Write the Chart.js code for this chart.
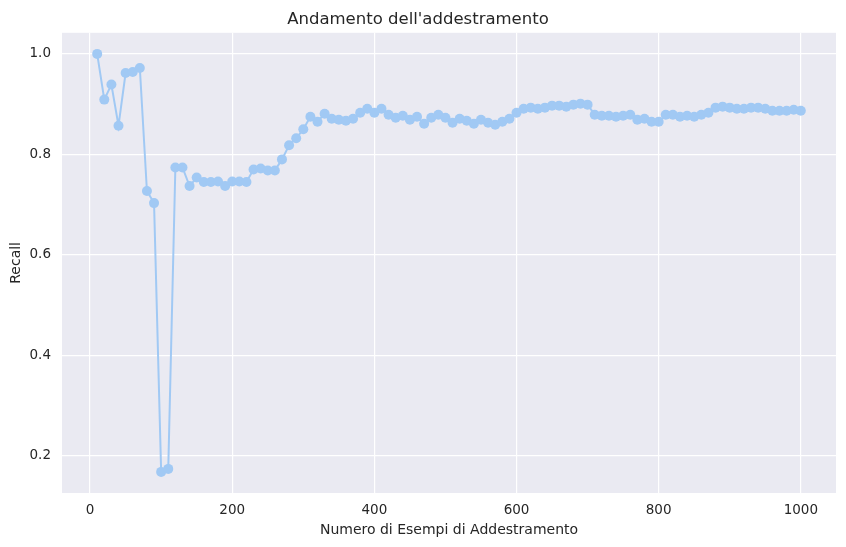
<!DOCTYPE html>
<html>
<head>
<meta charset="utf-8">
<script src="https://cdn.jsdelivr.net/npm/chart.js@4.4.0/dist/chart.umd.min.js"></script>
<style>
  html, body { margin: 0; padding: 0; background: #ffffff; }
  #wrap { width: 846px; height: 547px; }
</style>
</head>
<body>
<div id="wrap"><canvas id="mycanvas" width="846" height="547"></canvas></div>
<script>
// numero di esempi usati per l'addestramento
var examples = [10, 20, 30, 40, 50, 60, 70, 80, 90, 100,
  110, 120, 130, 140, 150, 160, 170, 180, 190, 200,
  210, 220, 230, 240, 250, 260, 270, 280, 290, 300,
  310, 320, 330, 340, 350, 360, 370, 380, 390, 400,
  410, 420, 430, 440, 450, 460, 470, 480, 490, 500,
  510, 520, 530, 540, 550, 560, 570, 580, 590, 600,
  610, 620, 630, 640, 650, 660, 670, 680, 690, 700,
  710, 720, 730, 740, 750, 760, 770, 780, 790, 800,
  810, 820, 830, 840, 850, 860, 870, 880, 890, 900,
  910, 920, 930, 940, 950, 960, 970, 980, 990, 1000];

var recall = [1.000, 0.909, 0.939, 0.857, 0.962, 0.964, 0.972, 0.727, 0.703, 0.168,
  0.174, 0.774, 0.774, 0.737, 0.754, 0.745, 0.745, 0.746, 0.737, 0.746,
  0.746, 0.745, 0.770, 0.772, 0.768, 0.768, 0.790, 0.818, 0.832, 0.850,
  0.875, 0.865, 0.881, 0.871, 0.869, 0.867, 0.871, 0.883, 0.891, 0.883,
  0.891, 0.879, 0.873, 0.877, 0.869, 0.875, 0.861, 0.873, 0.879, 0.873,
  0.863, 0.871, 0.867, 0.861, 0.869, 0.863, 0.859, 0.865, 0.871, 0.883,
  0.891, 0.893, 0.891, 0.893, 0.897, 0.897, 0.895, 0.899, 0.901, 0.899,
  0.879, 0.877, 0.877, 0.875, 0.877, 0.879, 0.869, 0.871, 0.865, 0.865,
  0.879, 0.879, 0.875, 0.877, 0.875, 0.879, 0.883, 0.893, 0.895, 0.893,
  0.891, 0.891, 0.893, 0.893, 0.891, 0.887, 0.887, 0.887, 0.889, 0.887];

var xTicks = [0, 200, 400, 600, 800, 1000];
var yTicks = [0.2, 0.4, 0.6, 0.8, 1.0];

var points = [];
for (var i = 0; i < examples.length; i++) {
  points.push({x: examples[i], y: recall[i]});
}

var textColor = '#262626';
var fontFam = '"DejaVu Sans", sans-serif';

// sfondo grigio stile seaborn
var bgPlugin = {
  id: 'plotBg',
  beforeDraw: function(chart) {
    var a = chart.chartArea;
    var c = chart.ctx;
    c.save();
    c.fillStyle = '#eaeaf2';
    c.fillRect(a.left, a.top, a.right - a.left, a.bottom - a.top);
    c.restore();
  }
};

var ctx = document.getElementById('mycanvas');
var LineGraph = new Chart(ctx, {
  type: 'line',
  data: {
    datasets: [{
      label: 'Recall',
      data: points,
      borderColor: '#a1c9f4',
      backgroundColor: '#a1c9f4',
      borderWidth: 2,
      pointRadius: 5,
      pointBorderWidth: 0,
      pointHoverRadius: 5,
      fill: false,
      tension: 0
    }]
  },
  options: {
    responsive: false,
    animation: false,
    devicePixelRatio: 1,
    events: [],
    layout: { padding: { left: 0, right: 10, top: 0, bottom: 0 } },
    plugins: {
      legend: { display: false },
      tooltip: { enabled: false },
      title: {
        display: true,
        text: "Andamento dell'addestramento",
        color: textColor,
        font: { family: fontFam, size: 16.5, weight: 'normal' },
        padding: { top: 10, bottom: 3 }
      }
    },
    scales: {
      x: {
        type: 'linear',
        min: -39.5,
        max: 1049.5,
        border: { display: false },
        grid: { color: '#ffffff', lineWidth: 1.2, drawTicks: false },
        ticks: {
          color: textColor,
          font: { family: fontFam, size: 13.5 },
          padding: 9,
          maxRotation: 0,
          callback: function(v) { return String(v); }
        },
        title: {
          display: true,
          text: 'Numero di Esempi di Addestramento',
          color: textColor,
          font: { family: fontFam, size: 14 },
          padding: { top: 4, bottom: 8 }
        },
        afterBuildTicks: function(scale) {
          scale.ticks = xTicks.map(function(v) { return {value: v}; });
        },
        afterFit: function(scale) { scale.height = 54; }
      },
      y: {
        type: 'linear',
        min: 0.126,
        max: 1.042,
        border: { display: false },
        grid: { color: '#ffffff', lineWidth: 1.2, drawTicks: false },
        ticks: {
          color: textColor,
          font: { family: fontFam, size: 13.5 },
          padding: 11,
          callback: function(v) { return v.toFixed(1); }
        },
        title: {
          display: true,
          text: 'Recall',
          color: textColor,
          font: { family: fontFam, size: 14 },
          padding: { top: 8, bottom: 4 }
        },
        afterBuildTicks: function(scale) {
          scale.ticks = yTicks.map(function(v) { return {value: v}; });
        },
        afterFit: function(scale) { scale.width = 62; }
      }
    }
  },
  plugins: [bgPlugin]
});
</script>
</body>
</html>
